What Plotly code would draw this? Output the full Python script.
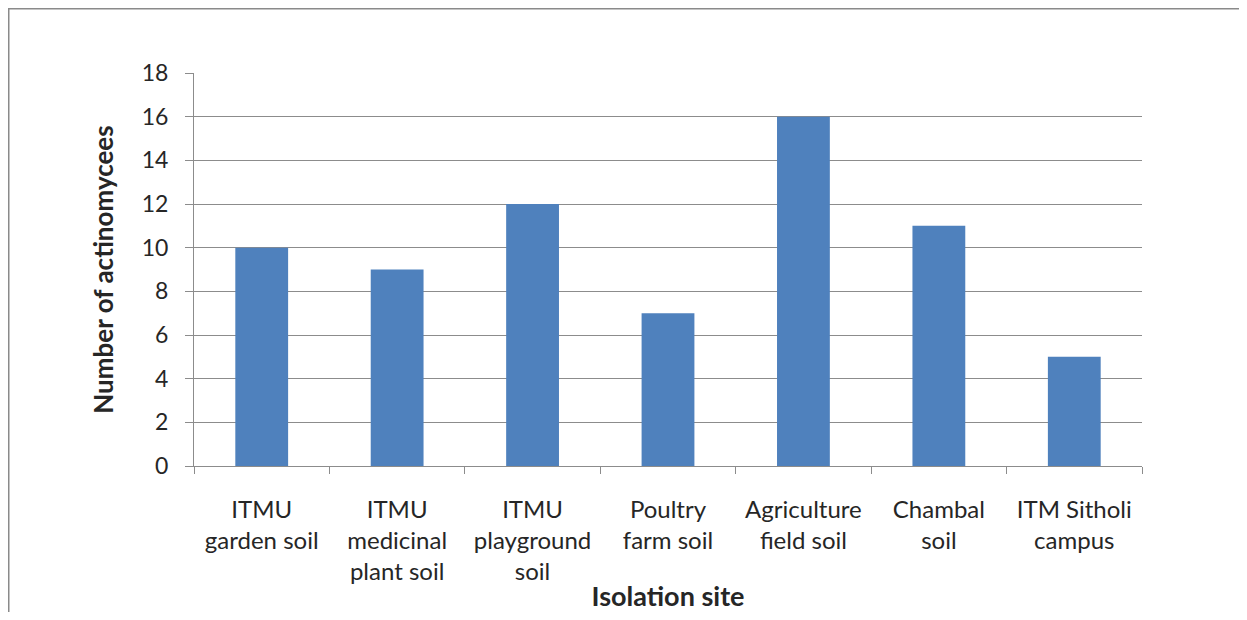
import plotly.graph_objects as go

categories = ["ITMU<br>garden soil", "ITMU<br>medicinal<br>plant soil", "ITMU<br>playground<br>soil",
              "Poultry<br>farm soil", "Agriculture<br>field soil", "Chambal<br>soil", "ITM Sitholi<br>campus"]
values = [10, 9, 12, 7, 16, 11, 5]
y_ticks = [0, 2, 4, 6, 8, 10, 12, 14, 16, 18]

# page has an 8px body margin; figure coordinates are offset by -8
W, H = 1239, 604
L, R, T, B = 186, 105, 65, 146
pw, ph = W - L - R, H - T - B

font = "Lato, Open Sans, sans-serif"
grid = "#8c8c8c"

fig = go.Figure(go.Bar(x=categories, y=values, marker=dict(color="#4f81bd", line=dict(width=0)), width=0.39))

fig.update_layout(
    width=W, height=H,
    margin=dict(l=L, r=R, t=T, b=B, autoexpand=False),
    paper_bgcolor="white", plot_bgcolor="white",
    showlegend=False,
    font=dict(family=font, size=24, color="#262626"),
    xaxis=dict(
        showline=True, linecolor=grid, linewidth=1,
        ticks="outside", ticklen=7, tickcolor=grid, tickson="boundaries",
        tickfont=dict(size=24), ticklabelstandoff=22,
        title=dict(text="<b>Isolation site</b>", font=dict(size=27), standoff=7),
        showgrid=False,
    ),
    yaxis=dict(
        range=[0, 18], tickvals=y_ticks,
        showline=True, linecolor=grid, linewidth=1,
        ticks="outside", ticklen=8, tickcolor=grid,
        showgrid=True, gridcolor=grid, gridwidth=1,
        tickfont=dict(size=23), ticklabelstandoff=12,
        title=dict(text="<b>Number of actinomycees</b>", font=dict(size=26), standoff=20),
        zeroline=False,
    ),
    shapes=[dict(type="rect", xref="paper", yref="paper",
                 x0=(0.5 - L) / pw, x1=(1236 - L) / pw,
                 y0=-(H + 40 - (H - B)) / ph,
                 y1=(H - B - 0.5) / ph,
                 line=dict(color="#8a8a8a", width=2), fillcolor="rgba(0,0,0,0)", layer="below")],
)

fig.write_html("out.html")
